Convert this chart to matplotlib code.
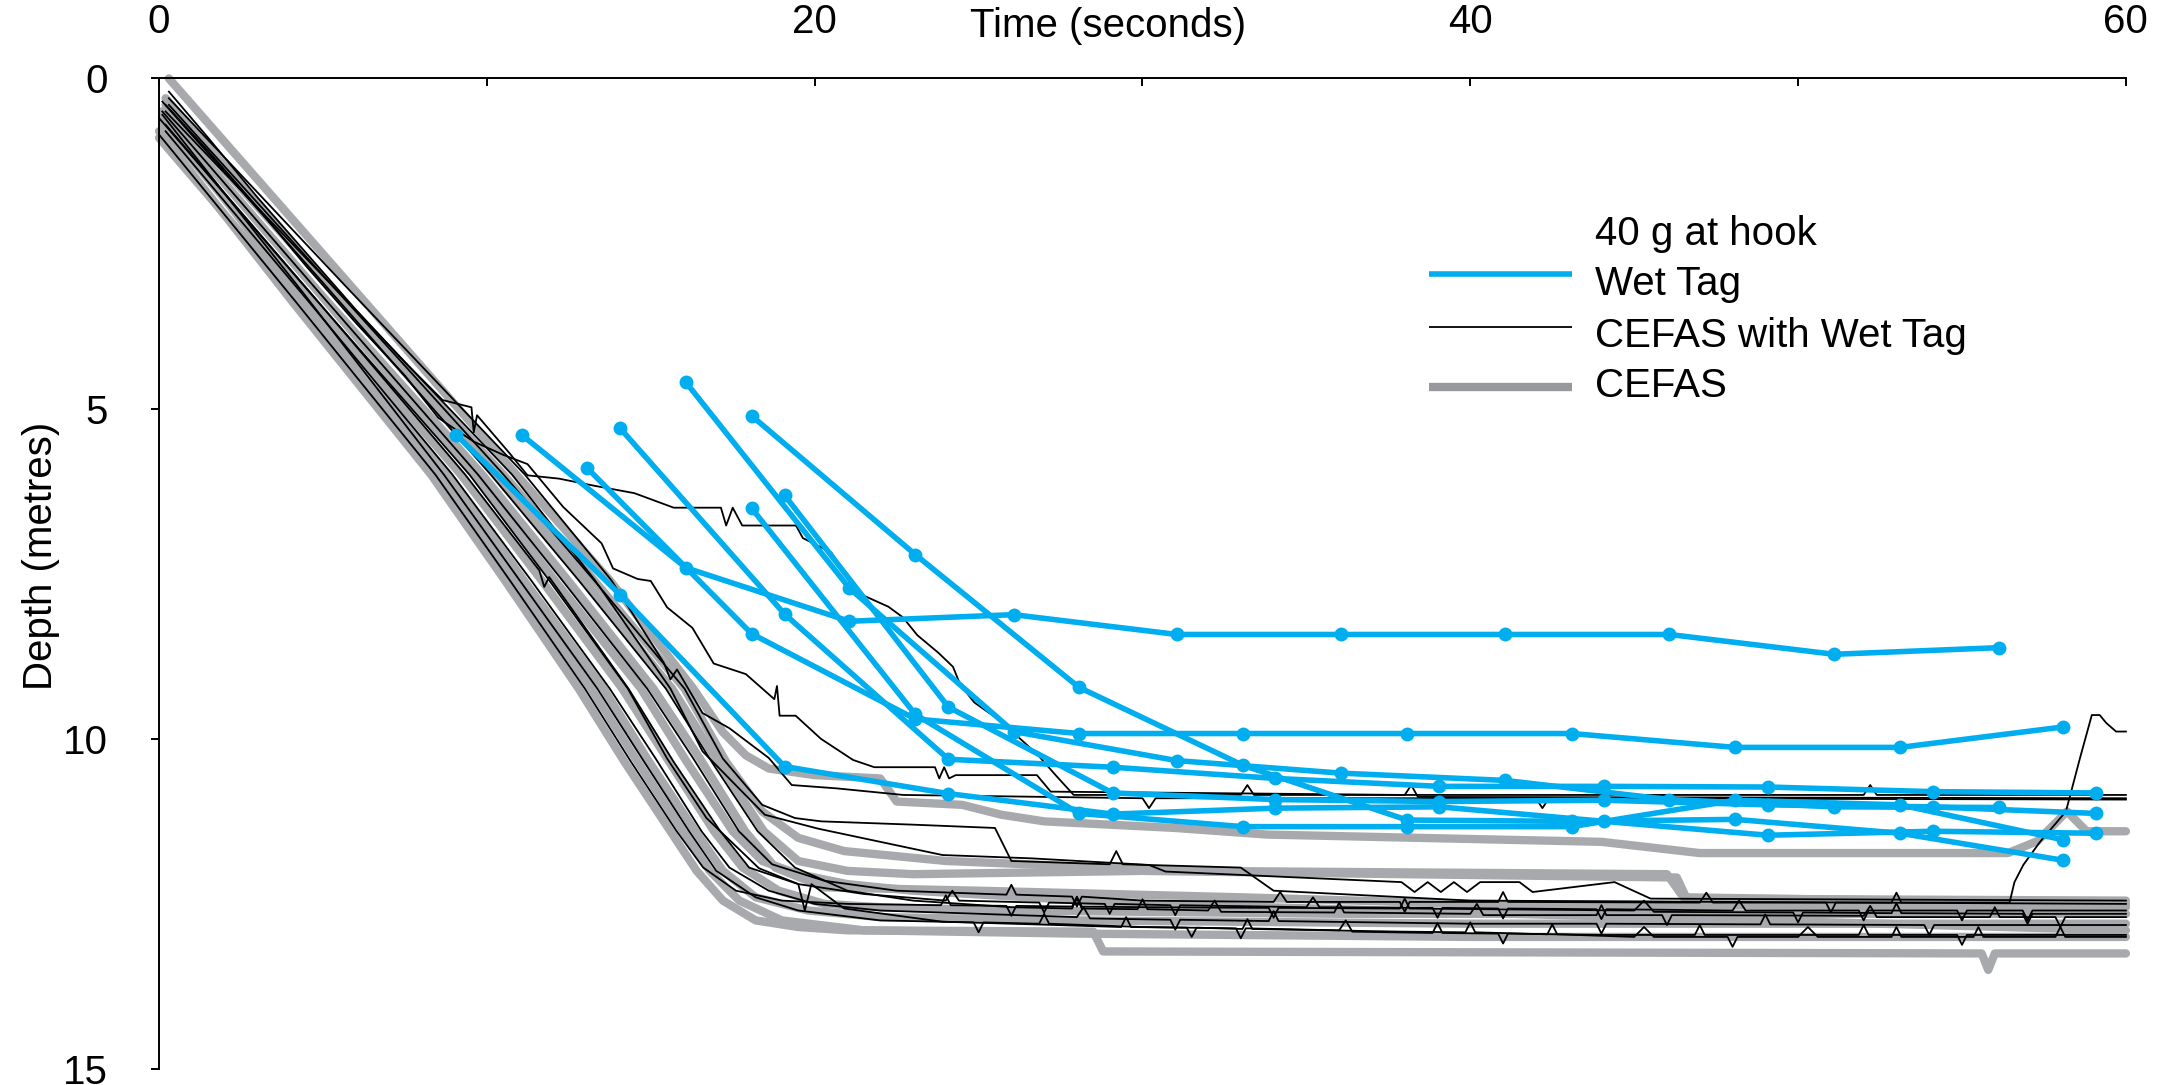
import matplotlib
matplotlib.use('Agg')
import matplotlib.pyplot as plt

plt.rcParams['font.family'] = ['Liberation Sans', 'DejaVu Sans']

# ---------------- Wet Tag (blue, sampled every 5 s) ----------------
wet_a_t = [9.07, 14.07, 19.08, 24.08, 29.09, 34.05, 39.06, 44.08, 49.08, 54.10, 59.08]
wet_a_d = [5.40, 7.82, 10.42, 10.83, 11.14, 11.05, 11.03, 11.25, 11.46, 11.40, 11.43]
wet_b_t = [11.07, 16.07, 21.06, 26.07, 31.05, 36.05, 41.06, 46.07, 51.10, 56.12]
wet_b_d = [5.40, 7.41, 8.22, 8.12, 8.42, 8.42, 8.42, 8.42, 8.72, 8.62]
wet_c_t = [13.06, 18.08, 23.07, 28.06, 33.06, 38.07, 43.09, 48.08, 53.11, 58.09]
wet_c_d = [5.90, 8.41, 9.70, 9.92, 9.92, 9.92, 9.92, 10.13, 10.13, 9.82]
wet_d_t = [14.07, 19.08, 24.08, 29.09, 34.05, 39.06, 44.08, 49.08, 54.10, 59.08]
wet_d_d = [5.30, 8.11, 10.31, 10.43, 10.60, 10.72, 10.72, 10.73, 10.80, 10.82]
wet_e_t = [16.07, 21.06, 26.07, 31.05, 36.05, 41.06, 46.07, 51.10, 56.12]
wet_e_d = [4.60, 7.72, 9.89, 10.33, 10.52, 10.63, 10.92, 11.03, 11.04]
wet_f_t = [18.08, 23.07, 28.06, 33.06, 38.07, 43.09, 48.08, 53.11, 58.09]
wet_f_d = [5.11, 7.21, 9.22, 10.40, 11.23, 11.25, 11.22, 11.43, 11.84]
wet_g_t = [18.08, 23.07, 28.06, 33.06, 38.07, 43.09, 48.08, 53.11, 58.09]
wet_g_d = [6.51, 9.63, 11.13, 11.33, 11.33, 11.33, 10.93, 11.00, 11.53]
wet_h_t = [19.08, 24.08, 29.09, 34.05, 39.06, 44.08, 49.08, 54.10, 59.08]
wet_h_d = [6.31, 9.52, 10.82, 10.92, 10.95, 10.93, 11.00, 11.03, 11.13]

# ---------------- CEFAS (grey, thick) ----------------
cefas1_t = [0.3, 5.6, 10.9, 13.75, 16.3, 17.2, 17.9, 18.6, 20, 22, 22.5, 24.5, 25.7, 27, 31, 33.8, 44, 47, 56.4, 57.3, 58.2, 58.8, 60]
cefas1_d = [0.0, 3.0, 6.0, 7.6, 9.24, 9.9, 10.25, 10.45, 10.55, 10.6, 10.95, 11.0, 11.15, 11.25, 11.35, 11.45, 11.56, 11.73, 11.73, 11.55, 11.1, 11.4, 11.4]
cefas2_t = [0.2, 5.2, 10.25, 12.95, 15.65, 17.05, 18.45, 19.5, 21, 23, 30, 38, 46.3, 46.6, 60]
cefas2_d = [0.3, 3.15, 6.0, 7.6, 9.24, 10.35, 11.4, 11.85, 12.0, 12.05, 12.0, 12.05, 12.1, 12.42, 12.45]
cefas3_t = [0.1, 4.9, 9.86, 12.47, 15.08, 16.5, 17.88, 18.8, 20.3, 25, 33, 40, 60]
cefas3_d = [0.5, 3.25, 6.0, 7.6, 9.24, 10.3, 11.4, 11.95, 12.25, 12.3, 12.4, 12.5, 12.55]
cefas4_t = [0.1, 4.6, 9.21, 11.67, 14.13, 15.5, 16.93, 17.8, 18.9, 20.3, 22, 26, 36, 60]
cefas4_d = [0.7, 3.35, 6.0, 7.6, 9.24, 10.3, 11.4, 11.95, 12.3, 12.5, 12.55, 12.6, 12.65, 12.65]
cefas5_t = [0.0, 4.4, 8.82, 11.2, 13.56, 14.95, 16.36, 17.2, 18.2, 19.8, 22, 28, 40, 60]
cefas5_d = [0.9, 3.45, 6.0, 7.65, 9.24, 10.35, 11.4, 12.0, 12.4, 12.6, 12.7, 12.75, 12.8, 12.8]
cefas6_t = [0.1, 4.3, 8.56, 10.87, 13.18, 14.6, 15.98, 16.8, 17.7, 19, 21.5, 28, 40, 60]
cefas6_d = [0.6, 3.3, 6.0, 7.6, 9.24, 10.35, 11.4, 12.0, 12.45, 12.75, 12.9, 12.95, 13.0, 13.0]
cefas7_t = [0.0, 4.1, 8.3, 10.55, 12.8, 14.2, 15.6, 16.4, 17.2, 18.2, 19.5, 21, 28.5, 28.8, 55.6, 55.8, 56.0, 60]
cefas7_d = [0.8, 3.4, 6.0, 7.6, 9.24, 10.35, 11.4, 12.0, 12.45, 12.75, 12.85, 12.9, 12.92, 13.22, 13.25, 13.5, 13.25, 13.25]
cefas8_t = [0.2, 5.3, 10.51, 13.27, 16.03, 17.3, 18.4, 19.5, 20.9, 24, 31.5, 46, 46.5, 60]
cefas8_d = [0.4, 3.2, 6.0, 7.6, 9.24, 10.35, 11.1, 11.5, 11.7, 11.85, 12.0, 12.05, 12.4, 12.5]
cefas9_t = [0.1, 4.8, 9.6, 12.15, 14.7, 16.1, 17.5, 18.4, 19.5, 21, 23, 30, 45, 60]
cefas9_d = [0.5, 3.2, 6.0, 7.65, 9.24, 10.35, 11.4, 11.85, 12.05, 12.2, 12.3, 12.5, 12.7, 12.9]

# ---------------- CEFAS with Wet Tag (black, thin) ----------------
cw1_t = [0.3, 1.5, 3, 4.5, 6, 7.5, 8.65, 9.53, 9.6, 9.7, 10.7, 11.24, 12.2, 13.3, 14.5, 15.7, 16.9, 17.14, 17.3, 17.5, 17.79, 19.43, 19.64, 20.51, 21.06, 21.49, 22.25, 22.69, 23.13, 23.78, 24.22, 24.44, 24.87, 25.7, 26.8, 27.35, 27.9, 33, 33.2, 33.4, 45, 52, 52.2, 52.4, 60]
cw1_d = [0.2, 0.9, 1.8, 2.65, 3.5, 4.3, 4.87, 4.98, 5.36, 5.1, 5.68, 6.01, 6.06, 6.17, 6.28, 6.5, 6.5, 6.5, 6.77, 6.5, 6.77, 6.77, 6.96, 7.18, 7.61, 7.83, 8.0, 8.16, 8.43, 8.7, 8.91, 9.18, 9.45, 9.74, 10.24, 10.55, 10.85, 10.85, 10.7, 10.85, 10.85, 10.85, 10.7, 10.85, 10.85]
cw2_t = [0.2, 1.5, 3, 4.5, 6, 7.5, 8.52, 9.6, 10.5, 11.24, 12.33, 13.5, 13.85, 14.6, 15.0, 15.5, 16.27, 16.92, 17.9, 18.77, 18.85, 18.93, 19.42, 20.19, 21.17, 21.82, 23.67, 23.8, 23.95, 24.1, 24.3, 24.74, 26.78, 27.2, 38, 38.2, 38.4, 60]
cw2_d = [0.4, 1.1, 1.95, 2.85, 3.7, 4.5, 5.14, 5.5, 5.7, 5.84, 6.49, 7.04, 7.42, 7.58, 7.61, 8.01, 8.32, 8.86, 9.02, 9.40, 9.2, 9.65, 9.65, 10.0, 10.32, 10.43, 10.43, 10.6, 10.43, 10.6, 10.55, 10.55, 10.55, 10.8, 10.85, 10.7, 10.88, 10.9]
cw3_t = [0.3, 5.7, 11.16, 13.8, 15.4, 15.6, 15.8, 16.58, 17.4, 18.6, 19.3, 20.66, 22.7, 30, 30.2, 30.4, 42, 42.2, 42.4, 60]
cw3_d = [0.3, 3.15, 6.0, 7.6, 8.85, 9.1, 8.95, 9.61, 9.84, 10.29, 10.70, 10.75, 10.85, 10.9, 11.05, 10.9, 10.9, 11.05, 10.9, 10.92]
cw4_t = [0.2, 5.5, 10.77, 13.3, 15.6, 16.58, 18.48, 20.1, 22.0, 23.9, 26.6, 30.2, 30.7, 37.9, 38.3, 38.7, 39.1, 39.5, 39.9, 40.3, 41.5, 41.9, 44.4, 45.5, 60]
cw4_d = [0.5, 3.25, 6.0, 7.6, 9.24, 10.19, 11.15, 11.36, 11.56, 11.76, 11.81, 11.91, 12.01, 12.17, 12.32, 12.17, 12.32, 12.17, 12.32, 12.17, 12.17, 12.32, 12.17, 12.42, 12.45]
cw5_t = [0.0, 4.7, 9.47, 11.9, 14.3, 15.5, 16.7, 18.3, 19.5, 19.7, 19.9, 20.9, 23.9, 27.4,
         29.35, 29.5, 29.65, 31.35, 31.5, 31.65, 33.05, 33.2, 33.35, 37.9, 39.85, 40, 40.15,
         42.35, 42.5, 42.65, 45, 45.3, 45.6, 47.85, 48, 48.15, 50, 50.3, 50.6, 52.85, 53, 53.15,
         55.35, 55.5, 55.65, 57.85, 58, 58.15, 60]
cw5_d = [0.6, 3.3, 6.0, 7.6, 9.24, 10.3, 11.2, 11.96, 12.2, 12.6, 12.2, 12.57, 12.77, 12.82,
         12.85, 12.7, 12.85, 12.86, 13.0, 12.86, 12.88, 12.73, 12.88, 12.92, 12.93, 12.78, 12.93,
         12.96, 12.81, 12.96, 13.0, 12.85, 13.0, 13.0, 13.15, 13.0, 13.0, 12.85, 13.0, 13.0, 12.85, 13.0,
         13.0, 12.85, 13.0, 13.0, 12.85, 13.0, 13.0]
cw6_t = [0.1, 4.9, 9.73, 12.3, 14.89, 16.3, 17.69, 18.7, 20.3, 22.5, 25.85, 26, 26.15, 27.85, 28, 28.15,
         30, 34, 34.2, 34.4, 37.85, 38, 38.15, 40.85, 41, 41.15, 47, 47.2, 47.4, 50.85, 51, 51.15,
         52.85, 53, 53.15, 56.45, 56.6, 56.87, 57.38, 58.17, 58.6, 58.96, 59.2, 59.4, 59.7, 60]
cw6_d = [0.5, 3.25, 6.0, 7.6, 9.24, 10.3, 11.4, 11.9, 12.15, 12.3, 12.36, 12.21, 12.36, 12.39, 12.54, 12.39,
         12.45, 12.47, 12.32, 12.47, 12.47, 12.62, 12.47, 12.47, 12.32, 12.47, 12.48, 12.33, 12.48, 12.48, 12.63, 12.48,
         12.48, 12.33, 12.48, 12.48, 12.17, 11.91, 11.56, 11.1, 10.29, 9.64, 9.64, 9.76, 9.89, 9.89]
cw7_t = [0.2, 4.8, 9.34, 11.6, 11.75, 11.9, 14.32, 15.7, 17.12, 18.0, 19.5, 21.5, 24, 24.2, 24.4,
         26.85, 27, 27.15, 28.85, 29, 29.15, 30.85, 31, 31.15, 35, 35.2, 35.4, 38.85, 39, 39.15,
         40.85, 41, 41.15, 43.85, 44, 44.15, 48, 48.2, 48.4, 51.85, 52, 52.15, 54.85, 55, 55.15,
         56.85, 57, 57.15, 60]
cw7_d = [0.7, 3.35, 6.0, 7.45, 7.7, 7.55, 9.24, 10.35, 11.4, 11.95, 12.2, 12.35, 12.45, 12.3, 12.45,
         12.48, 12.63, 12.48, 12.5, 12.65, 12.5, 12.52, 12.67, 12.52, 12.55, 12.4, 12.55, 12.56, 12.71, 12.56,
         12.57, 12.72, 12.57, 12.58, 12.73, 12.58, 12.6, 12.45, 12.6, 12.6, 12.75, 12.6, 12.6, 12.75, 12.6,
         12.6, 12.75, 12.6, 12.6]
cw8_t = [0.1, 5.1, 10.12, 12.8, 15.46, 16.86, 18.26, 19.4, 21, 23, 26, 27.85, 28, 28.15, 29.85, 30, 30.15,
         32, 32.2, 32.4, 35.85, 36, 36.15, 40, 40.2, 40.4, 43.85, 44, 44.15, 45.85, 46, 46.15,
         52, 52.2, 52.4, 55.85, 56, 56.15, 57.85, 58, 58.15, 60]
cw8_d = [0.35, 3.15, 6.0, 7.6, 9.24, 10.35, 11.4, 11.95, 12.3, 12.45, 12.55, 12.57, 12.42, 12.57, 12.58, 12.43, 12.58,
         12.6, 12.45, 12.62, 12.63, 12.48, 12.63, 12.65, 12.5, 12.67, 12.67, 12.52, 12.67, 12.67, 12.82, 12.67,
         12.68, 12.53, 12.7, 12.7, 12.55, 12.7, 12.7, 12.85, 12.7, 12.7]
cw9_t = [0.2, 4.6, 8.95, 11.35, 13.75, 15.15, 16.55, 17.4, 18.6, 20, 22, 28, 28.2, 28.4, 30.85, 31, 31.15,
         33.85, 34, 34.15, 40, 43.85, 44, 44.15, 48.85, 49, 49.15, 53.85, 54, 54.15, 60]
cw9_d = [0.8, 3.4, 6.0, 7.6, 9.24, 10.3, 11.4, 11.95, 12.3, 12.5, 12.6, 12.7, 12.55, 12.72, 12.74, 12.89, 12.74,
         12.76, 12.61, 12.76, 12.8, 12.8, 12.95, 12.8, 12.81, 12.66, 12.81, 12.82, 12.97, 12.82, 12.82]
cw10_t = [0.1, 4.4, 8.69, 11.0, 13.37, 14.8, 16.17, 17.0, 18.2, 19.5, 22, 24.85, 25, 25.15, 26.85, 27, 27.15,
          30, 32.85, 33, 33.15, 36, 36.2, 36.4, 38.85, 39, 39.15, 40.85, 41, 41.15, 44, 46.85, 47, 47.15,
          51.85, 52, 52.15, 54.85, 55, 55.15, 60]
cw10_d = [0.55, 3.25, 6.0, 7.6, 9.24, 10.35, 11.4, 12.0, 12.4, 12.6, 12.75, 12.78, 12.93, 12.78, 12.8, 12.65, 12.8,
          12.85, 12.87, 13.02, 12.87, 12.9, 12.75, 12.92, 12.94, 12.79, 12.94, 12.95, 13.1, 12.95, 12.97, 12.97, 12.82, 12.97,
          12.97, 12.82, 12.97, 12.97, 13.12, 12.97, 12.97]
cw11_t = [0.3, 5.4, 10.51, 13.27, 16.03, 17.2, 18.4, 19.4, 20.2, 23, 25.5, 26, 29, 29.2, 29.4, 33, 34, 40, 60]
cw11_d = [0.4, 3.2, 6.0, 7.6, 9.24, 10.3, 11.0, 11.2, 11.25, 11.3, 11.35, 11.85, 11.9, 11.7, 11.9, 11.95, 12.3, 12.45, 12.5]
cw12_t = [0.0, 4.2, 8.43, 10.7, 12.99, 14.4, 15.79, 16.6, 17.6, 19, 21, 23.85, 24, 24.15, 25.85, 26, 26.15,
          27.85, 28, 28.15, 30, 33.85, 34, 34.15, 37.85, 38, 38.15, 45, 45.3, 45.6, 49.85, 50, 50.15,
          52.85, 53, 53.15, 56.85, 57, 57.15, 60]
cw12_d = [0.85, 3.4, 6.0, 7.6, 9.24, 10.35, 11.4, 11.95, 12.3, 12.45, 12.5, 12.52, 12.37, 12.52, 12.53, 12.68, 12.53,
          12.54, 12.39, 12.54, 12.55, 12.56, 12.71, 12.56, 12.57, 12.42, 12.57, 12.6, 12.45, 12.62, 12.63, 12.78, 12.63,
          12.64, 12.49, 12.64, 12.65, 12.8, 12.65, 12.65]

x_ticks = [0, 10, 20, 30, 40, 50, 60]
x_tick_labels = ['0', '', '20', '', '40', '', '60']
y_ticks = [0, 5, 10, 15]
legend_labels = ['Wet Tag', 'CEFAS with Wet Tag', 'CEFAS']
legend_title = '40 g at hook'

BLUE = '#00aeef'
GREY = '#a7a9ac'
BLACK = '#000000'

wet_series = [(wet_a_t, wet_a_d), (wet_b_t, wet_b_d), (wet_c_t, wet_c_d), (wet_d_t, wet_d_d),
              (wet_e_t, wet_e_d), (wet_f_t, wet_f_d), (wet_g_t, wet_g_d), (wet_h_t, wet_h_d)]
cefas_series = [(cefas1_t, cefas1_d), (cefas2_t, cefas2_d), (cefas3_t, cefas3_d), (cefas4_t, cefas4_d),
                (cefas5_t, cefas5_d), (cefas6_t, cefas6_d), (cefas7_t, cefas7_d), (cefas8_t, cefas8_d),
                (cefas9_t, cefas9_d)]
cw_series = [(cw1_t, cw1_d), (cw2_t, cw2_d), (cw3_t, cw3_d), (cw4_t, cw4_d), (cw5_t, cw5_d),
             (cw6_t, cw6_d), (cw7_t, cw7_d), (cw8_t, cw8_d), (cw9_t, cw9_d), (cw10_t, cw10_d),
             (cw11_t, cw11_d), (cw12_t, cw12_d)]

fig = plt.figure(figsize=(21.64, 10.85), dpi=100)
ax = fig.add_axes([0.0735, 0.01475, 0.9089, 0.91295])

for t, d in cefas_series:
    ax.plot(t, d, color=GREY, lw=6.0, solid_joinstyle='round', solid_capstyle='round',
            zorder=1, clip_on=False)
for t, d in cw_series:
    ax.plot(t, d, color=BLACK, lw=1.3, zorder=2, clip_on=False)
for t, d in wet_series:
    ax.plot(t, d, color=BLUE, lw=4.0, marker='o', markersize=10, markeredgewidth=0,
            zorder=3, clip_on=False)

ax.set_xlim(0, 60)
ax.set_ylim(15, 0)
for s in ['right', 'bottom']:
    ax.spines[s].set_visible(False)
for s in ['top', 'left']:
    ax.spines[s].set_linewidth(1.4)

ax.xaxis.tick_top()
ax.set_xticks(x_ticks)
ax.set_xticklabels(x_tick_labels)
ax.set_yticks(y_ticks)
ax.tick_params(axis='x', direction='in', length=6, width=1.4, pad=27, labelsize=29)
ax.tick_params(axis='y', direction='out', length=6, width=1.4, pad=31, labelsize=29)

fig.text(0.512, 0.976, 'Time (seconds)', fontsize=29, ha='center', va='center')
fig.text(0.019, 0.4876, 'Depth (metres)', fontsize=29, ha='center', va='center', rotation=90)

# legend (drawn in axes coordinates)
hx0, hx1, tx = 0.6456, 0.7184, 0.730
ax.text(tx, 0.8319, legend_title, transform=ax.transAxes, fontsize=29, va='baseline', ha='left')
leg_styles = [(BLUE, 4.0, 0.8026, 0.7814), (BLACK, 1.3, 0.749, 0.7289), ('#97999c', 6.0, 0.6885, 0.6784)]
for lab, (c, lw, hy, ty) in zip(legend_labels, leg_styles):
    ax.plot([hx0, hx1], [hy, hy], transform=ax.transAxes, color=c, lw=lw, clip_on=False,
            solid_capstyle='butt')
    ax.text(tx, ty, lab, transform=ax.transAxes, fontsize=29, va='baseline', ha='left')

fig.savefig('out.png', dpi=100)
